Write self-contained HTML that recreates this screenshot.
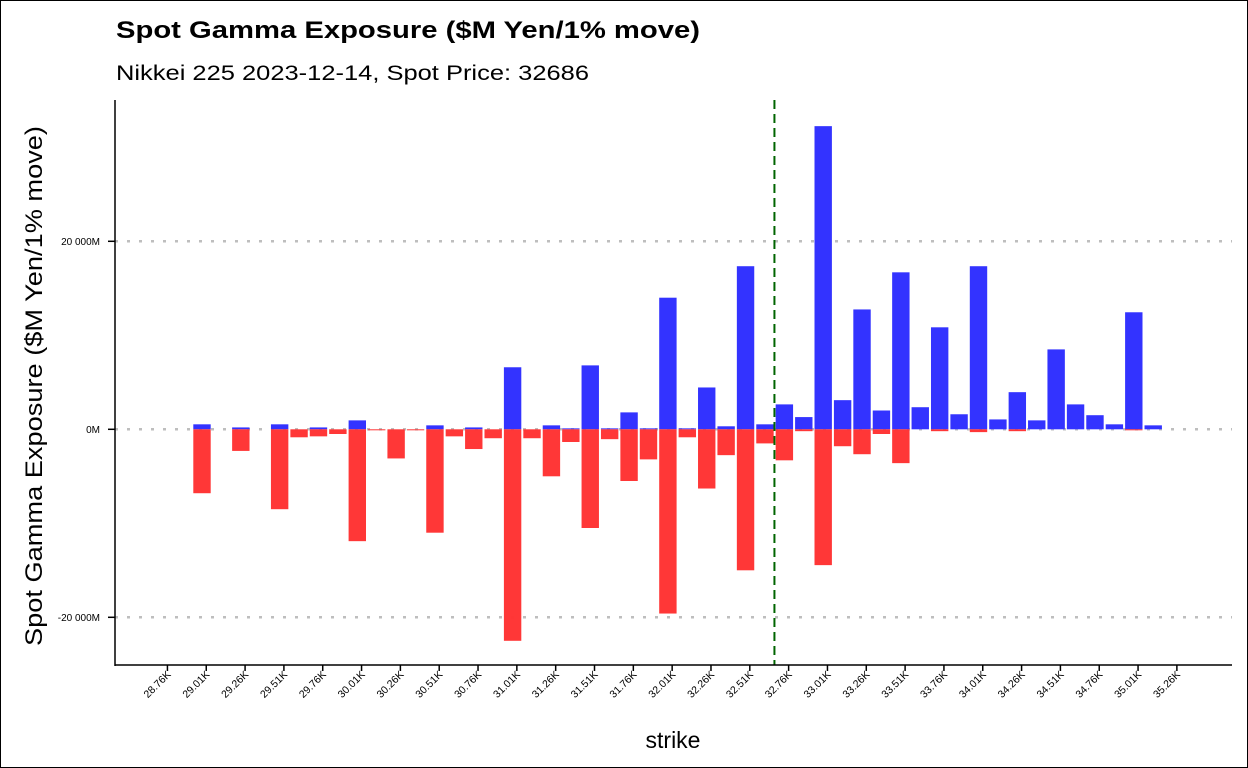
<!DOCTYPE html>
<html><head><meta charset="utf-8"><style>
html,body{margin:0;padding:0;background:#fff}
svg{display:block;font-family:"Liberation Sans",Arial,sans-serif}
</style></head><body>
<svg id="chart" width="1248" height="768" viewBox="0 0 1248 768">
<rect x="0.5" y="0.5" width="1247" height="767" fill="#fff" stroke="#000" stroke-width="1"/>
<text x="116" y="38" font-size="24" font-weight="bold" textLength="584" lengthAdjust="spacingAndGlyphs">Spot Gamma Exposure ($M Yen/1% move)</text>
<text x="116" y="80" font-size="21" textLength="473" lengthAdjust="spacingAndGlyphs">Nikkei 225 2023-12-14, Spot Price: 32686</text>
<g id="grid"></g>
<g id="bars"></g>
<g id="axes"></g>
<text x="673" y="748" font-size="23" text-anchor="middle">strike</text>
<text transform="translate(42,386) rotate(-90)" font-size="24" text-anchor="middle" textLength="520" lengthAdjust="spacingAndGlyphs">Spot Gamma Exposure ($M Yen/1% move)</text>
</svg>
<script>
const strikes = [29000,29125,29250,29375,29500,29625,29750,29875,30000,30125,30250,30375,30500,30625,30750,30875,31000,31125,31250,31375,31500,31625,31750,31875,32000,32125,32250,32375,32500,32625,32750,32875,33000,33125,33250,33375,33500,33625,33750,33875,34000,34125,34250,34375,34500,34625,34750,34875,35000,35125];
const callGamma = [530,0,200,0,530,0,200,0,950,0,0,0,420,0,200,0,6600,0,420,100,6800,100,1800,100,14000,100,4450,320,17350,530,2650,1300,32250,3100,12750,2000,16700,2350,10850,1600,17350,1050,3950,950,8500,2650,1500,530,12450,420];
const putGamma = [-6800,0,-2300,0,-8500,-850,-750,-500,-11900,-50,-3100,-50,-11000,-750,-2100,-950,-22500,-950,-5000,-1350,-10500,-1050,-5500,-3200,-19600,-850,-6300,-2750,-15000,-1500,-3300,-200,-14450,-1800,-2650,-500,-3600,0,-200,0,-300,0,-200,0,0,0,0,0,-100,0];
const tickValues = [28760,29010,29260,29510,29760,30010,30260,30510,30760,31010,31260,31510,31760,32010,32260,32510,32760,33010,33260,33510,33760,34010,34260,34510,34760,35010,35260];
const tickLabels = ["28.76K","29.01K","29.26K","29.51K","29.76K","30.01K","30.26K","30.51K","30.76K","31.01K","31.26K","31.51K","31.76K","32.01K","32.26K","32.51K","32.76K","33.01K","33.26K","33.51K","33.76K","34.01K","34.26K","34.51K","34.76K","35.01K","35.26K"];
const yTicks = [-20000,0,20000];
const yTickLabels = ["-20 000M","0M","20 000M"];
const spotPrice = 32686;

const NS="http://www.w3.org/2000/svg";
const X0=115, X1=1232, Y0=100, Y1=665;
function x(s){return 202+(s-29000)*0.1553;}
function y(v){return 429.3-v*(188/20000);}
function mk(tag,attrs,parent){const e=document.createElementNS(NS,tag);for(const k in attrs)e.setAttribute(k,attrs[k]);parent.appendChild(e);return e;}
const grid=document.getElementById('grid'),bars=document.getElementById('bars'),axes=document.getElementById('axes');
const bw=17.4;
yTicks.forEach((v,i)=>{
  const g=mk('line',{x1:X0,x2:X1,y1:y(v),y2:y(v),stroke:'#bebebe','stroke-width':2.5,'stroke-dasharray':'3 9'},grid);
  
  
  const t=mk('line',{x1:X0-7,x2:X0,y1:y(v),y2:y(v),stroke:'#000','stroke-width':1.5},axes);
  
  
  const l=mk('text',{x:X0-15,y:y(v)+3.5,'font-size':10,'text-anchor':'end'},axes);
  l.textContent=yTickLabels[i];
  
  
});
strikes.forEach((s,i)=>{
  const c=callGamma[i];
  if(c){const r=mk('rect',{x:x(s)-bw/2,y:y(c),width:bw,height:y(0)-y(c),fill:'#3333ff'},bars);
  
  }
});
strikes.forEach((s,i)=>{
  const p=putGamma[i];
  if(p){const r=mk('rect',{x:x(s)-bw/2,y:y(0),width:bw,height:Math.max(1,y(p)-y(0)),fill:'#ff3333','fill-opacity':0.98},bars);
  
  }
});
const sp=mk('line',{x1:x(spotPrice),x2:x(spotPrice),y1:Y0,y2:Y1,stroke:'#006400','stroke-width':2,'stroke-dasharray':'9 5'},bars);


const ya=mk('line',{x1:X0,x2:X0,y1:Y0,y2:Y1+1,stroke:'#000','stroke-width':1.5},axes);


const xa=mk('line',{x1:X0,x2:X1,y1:Y1,y2:Y1,stroke:'#000','stroke-width':1.5},axes);


tickValues.forEach((v,i)=>{
  const tx=x(v)+2.7;
  const t=mk('line',{x1:tx,x2:tx,y1:Y1,y2:Y1+6,stroke:'#000','stroke-width':1.5},axes);
  
  
  const l=mk('text',{transform:`translate(${tx+4},${Y1+10}) rotate(-45)`,'font-size':10.5,'text-anchor':'end'},axes);
  l.textContent=tickLabels[i];
  
  
});
</script>
</body></html>
